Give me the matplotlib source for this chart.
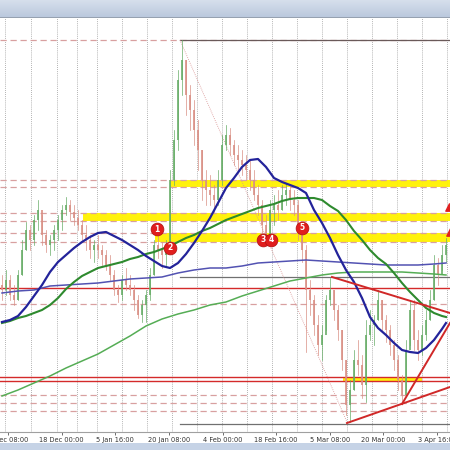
import numpy as np
import matplotlib
matplotlib.use("Agg")
import matplotlib.pyplot as plt
from matplotlib.patches import Rectangle
from matplotlib.colors import LinearSegmentedColormap

# ---------------- data (price units) ----------------
highs = [175,180,175,165,180,210,228,225,235,250,235,220,215,225,235,245,253,250,245,240,
         230,225,215,210,215,205,200,195,180,165,175,182,175,165,155,150,160,182,210,218,
         208,210,280,320,380,410,390,365,350,330,300,280,275,265,280,315,325,322,310,305,
         300,295,290,280,265,250,235,250,255,260,265,267,265,260,250,225,205,170,155,135,
         125,155,172,160,145,120,90,70,100,110,95,130,140,135,160,150,135,125,110,95,
         75,110,150,150,120,125,140,160,195,192,205,212]
lows = [150,155,150,145,150,175,200,200,205,220,205,198,195,200,210,220,235,230,225,220,
        210,200,192,188,192,185,180,170,155,148,150,160,155,140,132,128,128,150,175,192,
        182,185,200,265,300,355,335,320,305,280,250,245,245,238,245,265,300,295,285,280,
        275,270,260,250,235,215,205,210,225,230,240,245,240,235,210,188,98,135,115,95,
        90,120,145,130,110,80,35,28,60,75,52,48,110,105,130,120,108,95,80,60,
        46,60,105,100,90,95,110,130,150,165,180,188]
closes = [160,170,155,150,175,200,220,210,230,240,215,205,210,220,230,240,245,238,232,225,
          215,210,200,205,200,195,185,175,160,155,170,165,160,150,135,145,155,175,205,200,
          195,202,270,310,370,390,355,340,320,300,270,260,255,250,270,305,315,305,295,290,
          285,280,270,255,245,225,210,240,245,240,255,260,250,245,220,200,160,150,125,105,
          115,150,160,140,120,90,45,60,90,85,65,115,125,130,150,130,120,105,90,70,
          55,100,140,110,100,115,130,150,185,175,195,205]
first_open = 165

ma_fast_idx = list(range(0, 111, 2)) + [111]
ma_blue = [128,130,134,143,154,165,178,188,195,202,208,213,217,218,214,210,205,200,194,189,
           184,182,187,196,207,219,232,247,262,272,283,290,291,283,272,268,265,262,257,240,
           227,212,195,180,168,152,133,122,115,107,100,98,97,102,110,121,127]
ma_green = [127,129,132,134,137,140,145,152,161,168,174,178,182,184,186,188,191,193,196,198,
            201,204,208,212,215,219,222,226,230,233,236,239,242,244,246,249,251,252,252,252,
            250,244,239,230,219,210,200,192,186,177,167,158,150,142,137,134,133]

ma_slow_idx = list(range(0, 109, 4)) + [111]
ma_purple = [157,159,160,164,165,166,167,169,171,172,173,177,180,182,182,184,187,188,189,190,
             189,188,187,186,185,185,185,186,187]
ma_lightgreen = [54,60,67,74,82,89,96,105,114,124,131,136,140,145,148,154,159,164,169,172,
                 175,177,178,178,178,178,177,176,175]

dashed_levels = [410, 270, 263, 237, 229, 217, 208, 146, 55, 47, 39]
red_levels = [162, 73, 69]
yellow_zones = [(263, 270, 42), (229, 237, 20.25), (208, 217, 38.25), (69, 73, 85.25)]
yellow_zone_end = [112, 112, 112, 105]
gray_levels = [410, 173, 26]
gray_start = 44.5

fib_line = ([44.5, 86.25], [410, 28])
trend_lines = [([82.5, 112], [173, 137]),
               ([86.25, 112], [27, 63]),
               ([100, 112], [46, 127])]

marker_labels = ["1", "2", "3", "4", "5"]
marker_x = [38.75, 42, 65.25, 67.25, 75]
marker_y = [221, 202, 210, 210, 222]

tick_labels = ["3 Dec 08:00", "18 Dec 00:00", "5 Jan 16:00", "20 Jan 08:00", "4 Feb 00:00",
               "18 Feb 16:00", "5 Mar 08:00", "20 Mar 00:00", "3 Apr 16:00"]

grid_x = [0.75, 7.25, 13.75, 18.75, 23.75, 30, 36.25, 42.5, 48.75, 55, 61.25, 67.5,
          73.75, 80, 86.25, 92.5, 98.75, 105, 111.25]

# ---------------- figure ----------------
H = 450
fig = plt.figure(figsize=(4.5, 4.5), dpi=100)
fig.patch.set_facecolor("white")

# top title bar gradient
axt = fig.add_axes([0, (H - 18) / H, 1, 18 / H])
grad = np.linspace(0, 1, 50).reshape(-1, 1)
cm = LinearSegmentedColormap.from_list("bar", ["#b9c7dc", "#d6dfec"])
axt.imshow(grad, aspect="auto", cmap=cm, extent=[0, 1, 0, 1], origin="lower")
axt.axhline(0.02, color="#8f9aa8", lw=1.2)
axt.set_axis_off()

# bottom strip
axb = fig.add_axes([0, 0, 1, 7 / H])
axb.set_facecolor("#c6d3e6")
axb.set_xticks([]); axb.set_yticks([])
for s in axb.spines.values():
    s.set_visible(False)

ax = fig.add_axes([0, 18 / H, 1, (432 - 18) / H])
ax.set_xlim(-0.5, 112)
ax.set_ylim(18, 432)
ax.set_facecolor("white")

for gx in grid_x:
    ax.axvline(gx, color="#9a9a9a", lw=0.6, ls=(0, (1, 1.5)), zorder=1)

# yellow zones
for (lo, hi, start), end in zip(yellow_zones, yellow_zone_end):
    ax.add_patch(Rectangle((start, lo), end - start, hi - lo, facecolor="#fff200",
                           edgecolor="none", alpha=0.95, zorder=2))

for lv in dashed_levels:
    ax.axhline(lv, color="#d8a0a0", lw=0.9, ls=(0, (5, 3)), zorder=3)
for lv in red_levels:
    ax.axhline(lv, color="#d42a2a", lw=1.0, zorder=3)
for lv in gray_levels:
    ax.plot([gray_start, 112], [lv, lv], color="#6a5a5a" if lv > 400 else "#707070",
            lw=0.9, zorder=3)

ax.plot(fib_line[0], fib_line[1], color="#d89090", lw=0.6, ls=(0, (1, 1.5)), zorder=3)

# candles
opens = [first_open] + closes[:-1]
for i, (o, h, l, c) in enumerate(zip(opens, highs, lows, closes)):
    col = "#68ad68" if c >= o else "#d98f84"
    ax.plot([i, i], [l, h], color=col, lw=0.5, zorder=4)
    ax.plot([i, i], [min(o, c), max(o, c)], color=col, lw=1.2, zorder=4,
            solid_capstyle="butt")

# moving averages
ax.plot(ma_slow_idx, ma_lightgreen, color="#55ad55", lw=1.1, zorder=5)
ax.plot(ma_slow_idx, ma_purple, color="#5252b2", lw=1.1, zorder=5)
ax.plot(ma_fast_idx, ma_green, color="#2e8a2e", lw=1.5, zorder=5)
ax.plot(ma_fast_idx, ma_blue, color="#23239a", lw=1.6, zorder=5)

for xs, ys in trend_lines:
    ax.plot(xs, ys, color="#d02828", lw=1.4, zorder=6)

# red arrows at right edge
ax.scatter([111.8, 111.9], [243, 218], marker="^", s=28, color="#e02020", zorder=7,
           clip_on=True)

# numbered markers
for lab, mx, my in zip(marker_labels, marker_x, marker_y):
    ax.scatter([mx], [my], s=85, color="#e01e1e", edgecolor="#b01010", lw=0.5, zorder=8)
    ax.text(mx, my, lab, color="white", fontsize=5.5, fontweight="bold",
            ha="center", va="center", zorder=9)

ax.set_xticks(np.linspace(1.5, 108.75, 9))
ax.set_xticklabels(tick_labels)
ax.tick_params(axis="x", length=2, width=0.6, color="#555555", labelsize=4.8,
               labelcolor="#333333", pad=1.5)
ax.set_yticks([])
for s in ["top", "left", "right"]:
    ax.spines[s].set_visible(False)
ax.spines["bottom"].set_color("#a0a0a0")
ax.spines["bottom"].set_linewidth(0.8)

fig.savefig("out.png", dpi=100)
